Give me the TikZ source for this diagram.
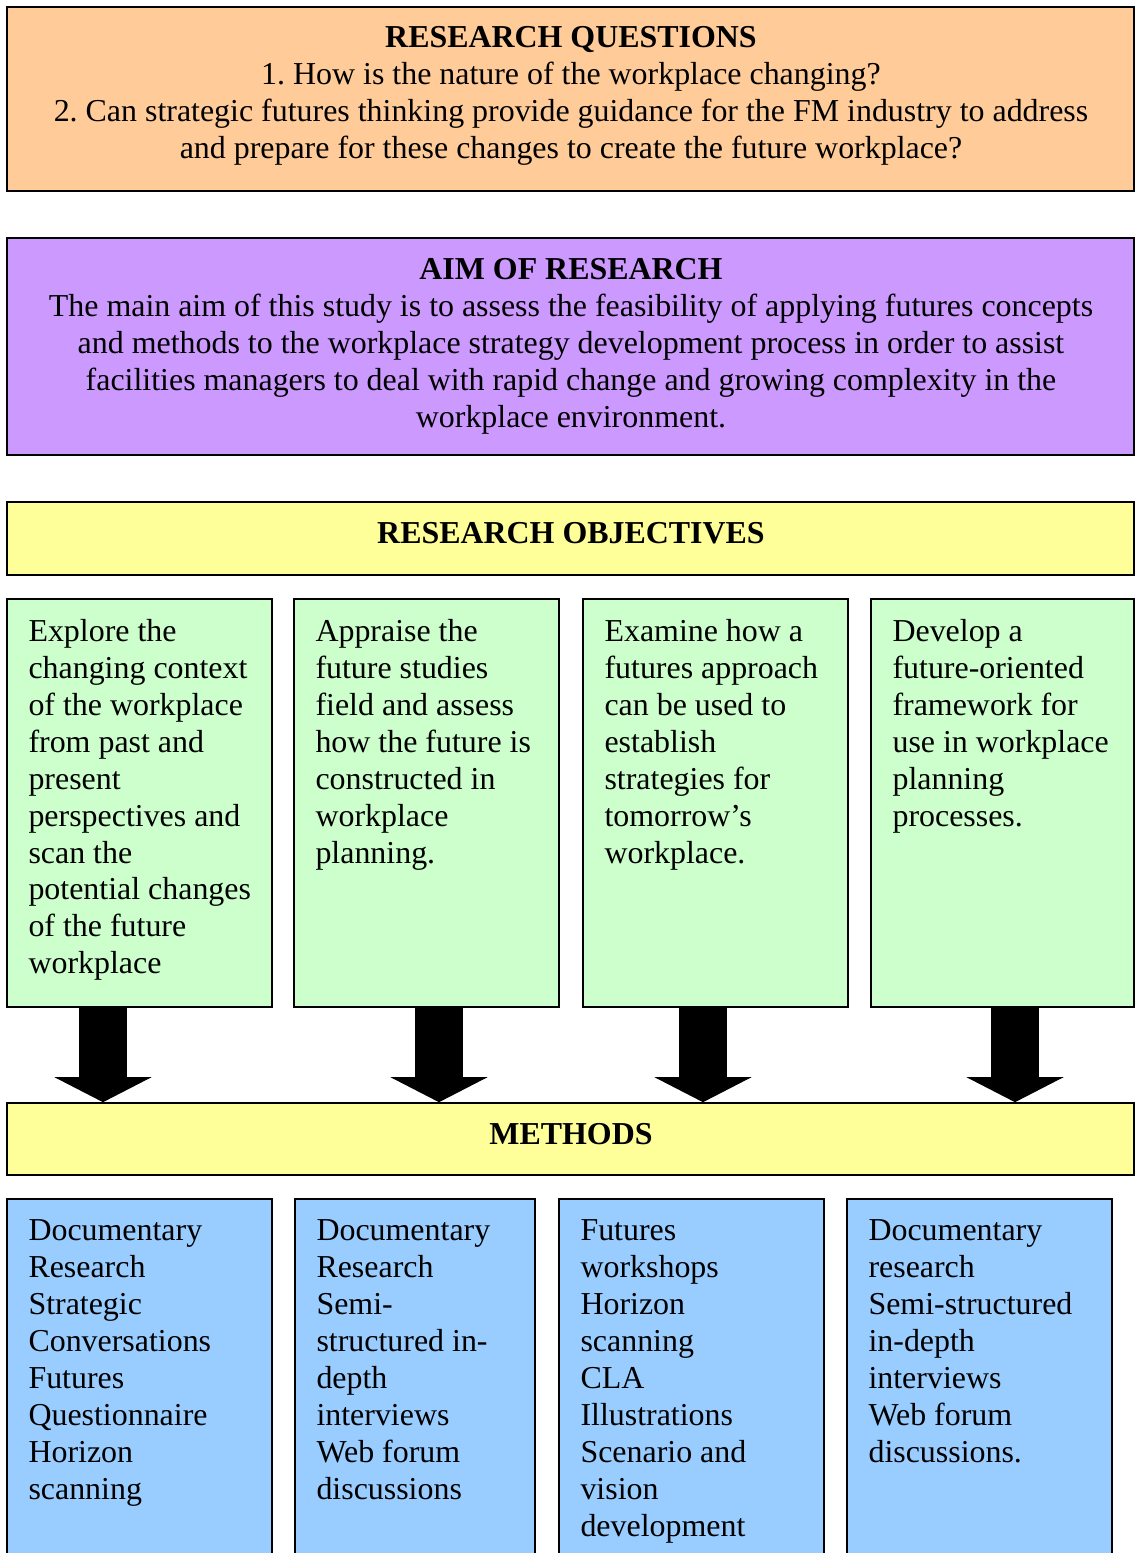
\documentclass[tikz,border=0pt]{standalone}
\usepackage{fontspec}
\setmainfont{Liberation Serif}
\usetikzlibrary{arrows.meta,fit}
\definecolor{qorange}{HTML}{FFCC99}
\definecolor{aimpurple}{HTML}{CC99FF}
\definecolor{headyellow}{HTML}{FFFF99}
\definecolor{objgreen}{HTML}{CCFFCC}
\definecolor{methblue}{HTML}{99CCFF}
\frenchspacing
\begin{document}
\begin{tikzpicture}[x=0.013213cm,y=-0.013213cm,font=\fontsize{12}{13.9}\selectfont,
	panel/.style={draw,line width=0.6pt,inner sep=0pt},
	midtext/.style={anchor=north,align=center,inner sep=0pt},
	coltext/.style={anchor=north west,align=left,inner sep=0pt},
	bigarrow/.style={line width=18pt,-{Triangle[width=36.5pt,length=9.4pt,line width=0pt]}}]
	\useasboundingbox (0,0) rectangle (1135,1553);
	\clip (0,0) rectangle (1135,1553);
	% question, aim, headings
	\node[panel,fill=qorange,fit={(7,7) (1134,191)}] (rq) {};
	\node[midtext] (rqtext) at (571,26) {\textbf{RESEARCH QUESTIONS}\\1. How is the nature of the workplace changing?\\2. Can strategic futures thinking provide guidance for the FM industry to address\\and prepare for these changes to create the future workplace?};
	\node[panel,fill=aimpurple,fit={(7,238) (1134,455)}] (aim) {};
	\node[midtext] (aimtext) at (571,258) {\textbf{AIM OF RESEARCH}\\The main aim of this study is to assess the feasibility of applying futures concepts\\and methods to the workplace strategy development process in order to assist\\facilities managers to deal with rapid change and growing complexity in the\\workplace environment.};
	\node[panel,fill=headyellow,fit={(7,502) (1134,575)}] (obj) {};
	\node[midtext] (objtext) at (571,522) {\textbf{RESEARCH OBJECTIVES}};
	% objectives
	\node[panel,fill=objgreen,fit={(7,599) (272,1007)}] (o1) {};
	\node[panel,fill=objgreen,fit={(294,599) (559,1007)}] (o2) {};
	\node[panel,fill=objgreen,fit={(583,599) (848,1007)}] (o3) {};
	\node[panel,fill=objgreen,fit={(871,599) (1134,1007)}] (o4) {};
	\node[coltext] (o1text) at (28,618.5) {Explore the\\changing context\\of the workplace\\from past and\\present\\perspectives and\\scan the\\potential changes\\of the future\\workplace};
	\node[coltext] (o2text) at (315,618.5) {Appraise the\\future studies\\field and assess\\how the future is\\constructed in\\workplace\\planning.};
	\node[coltext] (o3text) at (604,618.5) {Examine how a\\futures approach\\can be used to\\establish\\strategies for\\tomorrow’s\\workplace.};
	\node[coltext] (o4text) at (892,618.5) {Develop a\\future-oriented\\framework for\\use in workplace\\planning\\processes.};
	% methods
	\node[panel,fill=headyellow,fit={(7,1103) (1134,1175)}] (meth) {};
	\node[midtext] (methtext) at (571,1123) {\textbf{METHODS}};
	\node[panel,fill=methblue,fit={(7,1199) (272,1570)}] (m1) {};
	\node[panel,fill=methblue,fit={(295,1199) (535,1570)}] (m2) {};
	\node[panel,fill=methblue,fit={(559,1199) (824,1570)}] (m3) {};
	\node[panel,fill=methblue,fit={(847,1199) (1112,1570)}] (m4) {};
	\node[coltext] (m1text) at (28,1219) {Documentary\\Research\\Strategic\\Conversations\\Futures\\Questionnaire\\Horizon\\scanning};
	\node[coltext] (m2text) at (316,1219) {Documentary\\Research\\Semi-\\structured in-\\depth\\interviews\\Web forum\\discussions};
	\node[coltext] (m3text) at (580,1219) {Futures\\workshops\\Horizon\\scanning\\CLA\\Illustrations\\Scenario and\\vision\\development};
	\node[coltext] (m4text) at (868,1219) {Documentary\\research\\Semi-structured\\in-depth\\interviews\\Web forum\\discussions.};
	% arrows
	\coordinate (a1) at (103,0);\coordinate (a2) at (439,0);\coordinate (a3) at (703,0);\coordinate (a4) at (1015,0);
	\draw[bigarrow] (o1.south -| a1)--(meth.north -| a1);
	\draw[bigarrow] (o2.south -| a2)--(meth.north -| a2);
	\draw[bigarrow] (o3.south -| a3)--(meth.north -| a3);
	\draw[bigarrow] (o4.south -| a4)--(meth.north -| a4);
\end{tikzpicture}
\end{document}
